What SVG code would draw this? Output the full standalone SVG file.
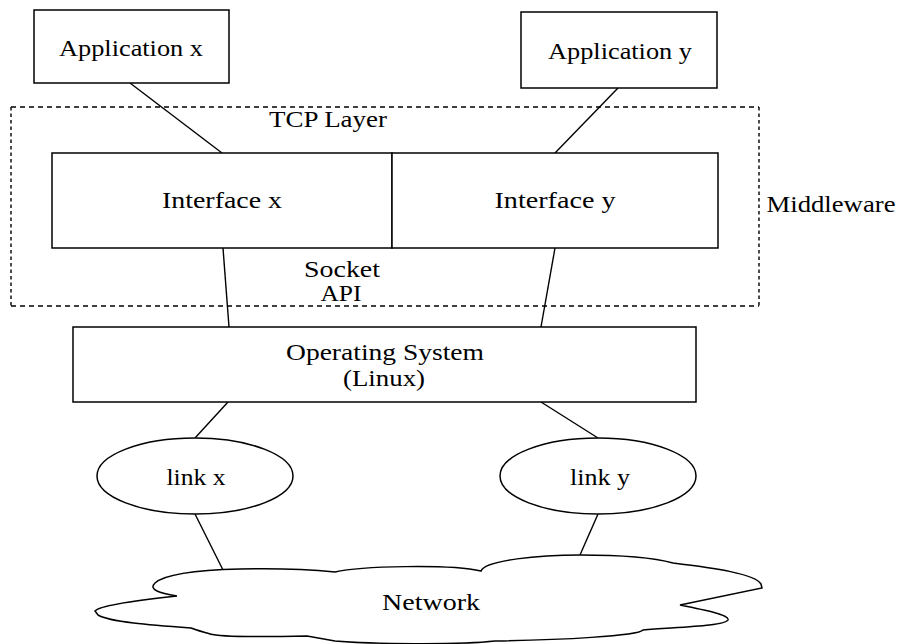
<svg xmlns="http://www.w3.org/2000/svg" width="899" height="644" viewBox="0 0 899 644">
  <style>
    .box { fill: #fff; stroke: #000; stroke-width: 1.5; }
    .edge { stroke: #000; stroke-width: 1.4; fill: none; }
    .dash-h { stroke: #000; stroke-width: 1.4; stroke-dasharray: 5 4; fill: none; }
    .dash-v { stroke: #000; stroke-width: 1.4; stroke-dasharray: 3.5 3; fill: none; }
    text { font-family: "Liberation Serif", "Times New Roman", serif; font-size: 23px; fill: #000; text-anchor: middle; }
  </style>
  <rect width="899" height="644" fill="#fff"/>

  <!-- middleware boundary (dashed) -->
  <g id="middleware">
    <line class="dash-h" x1="11" y1="107" x2="759" y2="107"/>
    <line class="dash-h" x1="11" y1="306" x2="759" y2="306"/>
    <line class="dash-v" x1="11" y1="107" x2="11" y2="306"/>
    <line class="dash-v" x1="759" y1="107" x2="759" y2="306"/>
    <text x="831" y="212" textLength="129" lengthAdjust="spacingAndGlyphs">Middleware</text>
    <text x="328" y="127" textLength="118" lengthAdjust="spacingAndGlyphs">TCP Layer</text>
    <text x="342" y="277" textLength="76" lengthAdjust="spacingAndGlyphs">Socket</text>
    <text x="341" y="301" textLength="41" lengthAdjust="spacingAndGlyphs">API</text>
  </g>

  <!-- connectors -->
  <g id="connectors">
    <line class="edge" x1="130" y1="83" x2="222" y2="153"/>
    <line class="edge" x1="618" y1="88" x2="555" y2="153"/>
    <line class="edge" x1="223" y1="248" x2="229" y2="327"/>
    <line class="edge" x1="555" y1="248" x2="541" y2="327"/>
    <line class="edge" x1="228" y1="402" x2="195" y2="438"/>
    <line class="edge" x1="541" y1="402" x2="598" y2="438"/>
    <line class="edge" x1="195" y1="514" x2="223" y2="570"/>
    <line class="edge" x1="598" y1="514" x2="580" y2="555"/>
  </g>

  <g id="app-x">
    <rect class="box" x="34" y="10" width="195" height="73"/>
    <text x="131" y="56" textLength="144" lengthAdjust="spacingAndGlyphs">Application x</text>
  </g>

  <g id="app-y">
    <rect class="box" x="521" y="12" width="196" height="76"/>
    <text x="620" y="59" textLength="144" lengthAdjust="spacingAndGlyphs">Application y</text>
  </g>

  <g id="interface-x">
    <rect class="box" x="52" y="153" width="340" height="95"/>
    <text x="222" y="208" textLength="120" lengthAdjust="spacingAndGlyphs">Interface x</text>
  </g>

  <g id="interface-y">
    <rect class="box" x="392" y="153" width="326" height="95"/>
    <text x="555" y="208" textLength="121" lengthAdjust="spacingAndGlyphs">Interface y</text>
  </g>

  <g id="os">
    <rect class="box" x="73" y="327" width="623" height="75"/>
    <text x="385" y="360" textLength="198" lengthAdjust="spacingAndGlyphs">Operating System</text>
    <text x="384" y="386" textLength="82" lengthAdjust="spacingAndGlyphs">(Linux)</text>
  </g>

  <g id="link-x">
    <ellipse class="box" cx="195" cy="476" rx="98" ry="38"/>
    <text x="196" y="485" textLength="59" lengthAdjust="spacingAndGlyphs">link x</text>
  </g>

  <g id="link-y">
    <ellipse class="box" cx="598" cy="476" rx="98" ry="38"/>
    <text x="600" y="485" textLength="60" lengthAdjust="spacingAndGlyphs">link y</text>
  </g>

  <g id="network">
    <path class="box" d="M177,596
      C160,593 148,590 155,583 C165,574 200,570 240,569 C280,568 315,570 335,572
      C360,566 450,564 481,571
      C485,560 540,555 580,555 C620,555 655,558 673,563
      C715,568 755,574 761,584 L762,588 L680,605
      C705,610 730,615 728,620 C725,626 680,627 643,630
      C638,636 560,640 495,641
      C460,645 370,644 335,641 L307,636
      C260,637 220,637 210,634 C200,631 193,629 191,628
      C150,625 110,622 98,615 L95,611 C100,605 140,600 177,596 Z"/>
    <text x="431" y="610" textLength="98" lengthAdjust="spacingAndGlyphs">Network</text>
  </g>
</svg>
